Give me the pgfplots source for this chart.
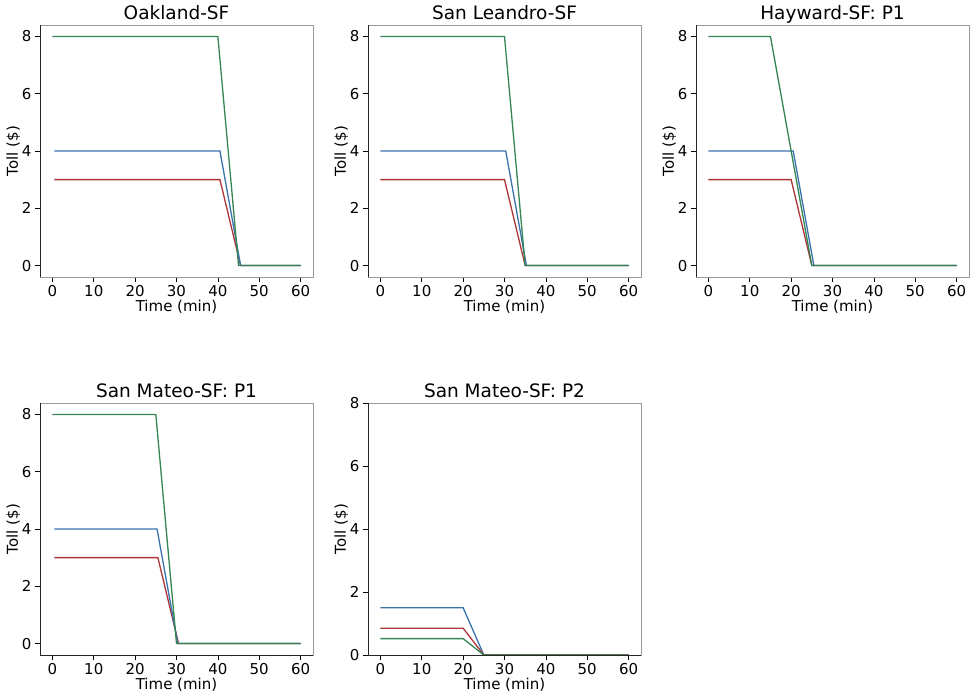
\documentclass[border=0pt]{standalone}
\usepackage{fontspec}
\setmainfont{DejaVu Sans}
\usepackage{pgfplots}
\pgfplotsset{compat=1.18}
\definecolor{tollblue}{HTML}{3A72AE}
\definecolor{tollred}{HTML}{AD3438}
\definecolor{tollgreen}{HTML}{338553}
\definecolor{spinegray}{HTML}{9A9A9A}
\pgfplotsset{
  tollplot/.style={
    scale only axis,
    width=273pt, height=252pt,
    anchor=south west,
    xmin=-3, xmax=63, ymin=-0.4, ymax=8.4,
    xtick={0,10,...,60}, ytick={0,2,...,8},
    tick align=outside, tick pos=left,
    major tick length=5pt,
    tick style={black, line width=0.6pt},
    axis line style={spinegray, line width=0.8pt},
    tick label style={font=\fontsize{15}{17}\selectfont},
    /pgf/number format/assume math mode=true,
    label style={font=\fontsize{15}{17}\selectfont},
    title style={font=\fontsize{18.5}{20}\selectfont, text depth=4pt, yshift=-8pt},
    xlabel={Time (min)}, ylabel={Toll (\$)},
    xlabel style={yshift=4pt},
    ylabel style={yshift=-5pt},
    every axis plot/.append style={line width=1.3pt, no markers},
  },
}
\newcommand{\darkspines}{%
  \draw[black!85, line width=0.8pt] (rel axis cs:0,1) -- (rel axis cs:0,0) -- (rel axis cs:1,0);}
\begin{document}
\begin{tikzpicture}
\useasboundingbox (0,0) rectangle (970pt,694pt);

\begin{axis}[tollplot, at={(40pt,417pt)}, title={Oakland-SF}]
  \addplot[tollred] coordinates {(0.5,3) (40.5,3) (45.5,0) (60,0)};
  \addplot[tollblue] coordinates {(0.5,4) (40.5,4) (45.5,0) (60,0)};
  \addplot[tollgreen] coordinates {(0,8) (40,8) (45,0) (60,0)};
  \darkspines
\end{axis}

\begin{axis}[tollplot, at={(368pt,417pt)}, title={San Leandro-SF}]
  \addplot[tollred] coordinates {(0,3) (30,3) (35,0) (60,0)};
  \addplot[tollblue] coordinates {(0,4) (30.3,4) (35.3,0) (60,0)};
  \addplot[tollgreen] coordinates {(0,8) (30,8) (35,0) (60,0)};
  \darkspines
\end{axis}

\begin{axis}[tollplot, at={(696pt,417pt)}, title={Hayward-SF: P1}]
  \addplot[tollred] coordinates {(0,3) (20,3) (25,0) (60,0)};
  \addplot[tollblue] coordinates {(0,4) (20.5,4) (25.5,0) (60,0)};
  \addplot[tollgreen] coordinates {(0,8) (15,8) (25,0) (60,0)};
  \darkspines
\end{axis}

\begin{axis}[tollplot, at={(40pt,39pt)}, title={San Mateo-SF: P1}]
  \addplot[tollred] coordinates {(0.5,3) (25.5,3) (30.5,0) (60,0)};
  \addplot[tollblue] coordinates {(0.5,4) (25.3,4) (30.3,0) (60,0)};
  \addplot[tollgreen] coordinates {(0,8) (25,8) (30,0) (60,0)};
  \darkspines
\end{axis}

\begin{axis}[tollplot, at={(368pt,39pt)}, ymin=0, ymax=8, title={San Mateo-SF: P2}]
  \addplot[tollblue] coordinates {(0,1.5) (20,1.5) (25,0) (60,0)};
  \addplot[tollred] coordinates {(0,0.85) (20,0.85) (25,0) (60,0)};
  \addplot[tollgreen] coordinates {(0,0.52) (20,0.52) (25,0) (60,0)};
  \darkspines
\end{axis}
\end{tikzpicture}
\end{document}
